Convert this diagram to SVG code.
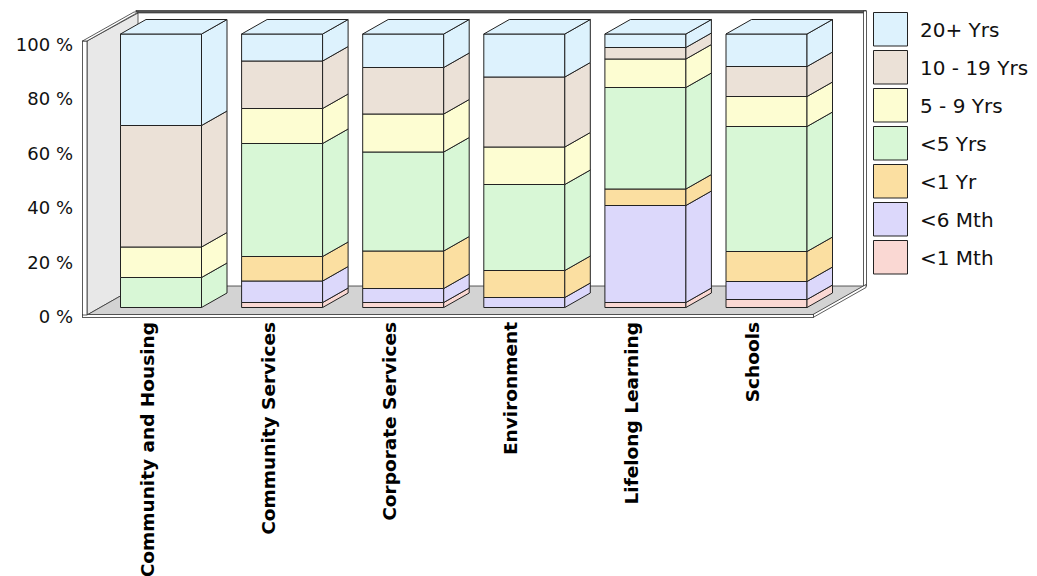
<svg xmlns="http://www.w3.org/2000/svg" width="1037" height="576" viewBox="0 0 1037 576">
<style>
.ln{stroke:#222;stroke-width:1;stroke-linejoin:round}
.wl{stroke:#333;stroke-width:0.8}
.c1{fill:#DDF2FD}.c2{fill:#EBE1D7}.c3{fill:#FDFDD2}.c4{fill:#D8F7D6}.c5{fill:#FBDFA1}.c6{fill:#DCD8FB}.c7{fill:#FAD8D3}
.ax{font-family:"DejaVu Sans",Verdana,sans-serif;font-size:18px;fill:#111;text-anchor:end}
.lg{font-family:"DejaVu Sans",Verdana,sans-serif;font-size:20px;fill:#111}
.cat{font-family:"DejaVu Sans",Verdana,sans-serif;font-size:18.5px;font-weight:bold;fill:#000;text-anchor:end}
</style>
<rect width="1037" height="576" fill="#fff"/>
<g id="frame">
<polygon class="wl" points="87,41 138,13 138,286 87,315" fill="#E8E8E8"/>
<rect x="136" y="10.5" width="730" height="2.5" fill="#555" stroke="#222" stroke-width="0.6"/>
<rect class="wl" x="863.5" y="11" width="3" height="275" fill="#fff"/>
<polygon class="wl" points="87,315 138,286 864,286 813,315" fill="#D3D3D3"/>
<polygon class="wl" points="813,314.5 866,284.5 866,287.5 813,317.5" fill="#fff"/>
<rect class="wl" x="82.5" y="314.5" width="731" height="3" fill="#fff"/>
<rect class="wl" x="82.5" y="41" width="4.5" height="274" fill="#fff"/>
<polygon class="wl" points="82.5,41 87,41 138.5,12 134,12" fill="#fff"/>
</g>
<g id="axis">
<text class="ax" x="73" y="50.5">100 %</text>
<text class="ax" x="73" y="105">80 %</text>
<text class="ax" x="73" y="159.5">60 %</text>
<text class="ax" x="73" y="214">40 %</text>
<text class="ax" x="73" y="268.5">20 %</text>
<text class="ax" x="73" y="323">0 %</text>
</g>
<g id="bar-community-housing" class="ln">
<rect class="c4" x="120.5" y="277.5" width="81" height="30"/>
<polygon class="c4" points="201.5,307.5 227,293 227,263 201.5,277.5"/>
<rect class="c3" x="120.5" y="247" width="81" height="30.5"/>
<polygon class="c3" points="201.5,277.5 227,263 227,232.5 201.5,247"/>
<rect class="c2" x="120.5" y="125.5" width="81" height="121.5"/>
<polygon class="c2" points="201.5,247 227,232.5 227,111 201.5,125.5"/>
<rect class="c1" x="120.5" y="34" width="81" height="91.5"/>
<polygon class="c1" points="201.5,125.5 227,111 227,19.5 201.5,34"/>
<polygon class="c1" points="120.5,34 146,19.5 227,19.5 201.5,34"/>
</g>
<g id="bar-community-services" class="ln">
<rect class="c7" x="241.6" y="302.5" width="81" height="5"/>
<polygon class="c7" points="322.6,307.5 348.1,293 348.1,288 322.6,302.5"/>
<rect class="c6" x="241.6" y="281" width="81" height="21.5"/>
<polygon class="c6" points="322.6,302.5 348.1,288 348.1,266.5 322.6,281"/>
<rect class="c5" x="241.6" y="256.5" width="81" height="24.5"/>
<polygon class="c5" points="322.6,281 348.1,266.5 348.1,242 322.6,256.5"/>
<rect class="c4" x="241.6" y="143.5" width="81" height="113"/>
<polygon class="c4" points="322.6,256.5 348.1,242 348.1,129 322.6,143.5"/>
<rect class="c3" x="241.6" y="108.5" width="81" height="35"/>
<polygon class="c3" points="322.6,143.5 348.1,129 348.1,94 322.6,108.5"/>
<rect class="c2" x="241.6" y="61" width="81" height="47.5"/>
<polygon class="c2" points="322.6,108.5 348.1,94 348.1,46.5 322.6,61"/>
<rect class="c1" x="241.6" y="34" width="81" height="27"/>
<polygon class="c1" points="322.6,61 348.1,46.5 348.1,19.5 322.6,34"/>
<polygon class="c1" points="241.6,34 267.1,19.5 348.1,19.5 322.6,34"/>
</g>
<g id="bar-corporate-services" class="ln">
<rect class="c7" x="362.7" y="302.5" width="81" height="5"/>
<polygon class="c7" points="443.7,307.5 469.2,293 469.2,288 443.7,302.5"/>
<rect class="c6" x="362.7" y="288.5" width="81" height="14"/>
<polygon class="c6" points="443.7,302.5 469.2,288 469.2,274 443.7,288.5"/>
<rect class="c5" x="362.7" y="251" width="81" height="37.5"/>
<polygon class="c5" points="443.7,288.5 469.2,274 469.2,236.5 443.7,251"/>
<rect class="c4" x="362.7" y="152" width="81" height="99"/>
<polygon class="c4" points="443.7,251 469.2,236.5 469.2,137.5 443.7,152"/>
<rect class="c3" x="362.7" y="114" width="81" height="38"/>
<polygon class="c3" points="443.7,152 469.2,137.5 469.2,99.5 443.7,114"/>
<rect class="c2" x="362.7" y="67.5" width="81" height="46.5"/>
<polygon class="c2" points="443.7,114 469.2,99.5 469.2,53 443.7,67.5"/>
<rect class="c1" x="362.7" y="34" width="81" height="33.5"/>
<polygon class="c1" points="443.7,67.5 469.2,53 469.2,19.5 443.7,34"/>
<polygon class="c1" points="362.7,34 388.2,19.5 469.2,19.5 443.7,34"/>
</g>
<g id="bar-environment" class="ln">
<rect class="c6" x="483.8" y="297.5" width="81" height="10"/>
<polygon class="c6" points="564.8,307.5 590.3,293 590.3,283 564.8,297.5"/>
<rect class="c5" x="483.8" y="270.5" width="81" height="27"/>
<polygon class="c5" points="564.8,297.5 590.3,283 590.3,256 564.8,270.5"/>
<rect class="c4" x="483.8" y="184.5" width="81" height="86"/>
<polygon class="c4" points="564.8,270.5 590.3,256 590.3,170 564.8,184.5"/>
<rect class="c3" x="483.8" y="147" width="81" height="37.5"/>
<polygon class="c3" points="564.8,184.5 590.3,170 590.3,132.5 564.8,147"/>
<rect class="c2" x="483.8" y="77" width="81" height="70"/>
<polygon class="c2" points="564.8,147 590.3,132.5 590.3,62.5 564.8,77"/>
<rect class="c1" x="483.8" y="34" width="81" height="43"/>
<polygon class="c1" points="564.8,77 590.3,62.5 590.3,19.5 564.8,34"/>
<polygon class="c1" points="483.8,34 509.3,19.5 590.3,19.5 564.8,34"/>
</g>
<g id="bar-lifelong-learning" class="ln">
<rect class="c7" x="604.9" y="302.5" width="81" height="5"/>
<polygon class="c7" points="685.9,307.5 711.4,293 711.4,288 685.9,302.5"/>
<rect class="c6" x="604.9" y="205.5" width="81" height="97"/>
<polygon class="c6" points="685.9,302.5 711.4,288 711.4,191 685.9,205.5"/>
<rect class="c5" x="604.9" y="189" width="81" height="16.5"/>
<polygon class="c5" points="685.9,205.5 711.4,191 711.4,174.5 685.9,189"/>
<rect class="c4" x="604.9" y="87.5" width="81" height="101.5"/>
<polygon class="c4" points="685.9,189 711.4,174.5 711.4,73 685.9,87.5"/>
<rect class="c3" x="604.9" y="59" width="81" height="28.5"/>
<polygon class="c3" points="685.9,87.5 711.4,73 711.4,44.5 685.9,59"/>
<rect class="c2" x="604.9" y="47.5" width="81" height="11.5"/>
<polygon class="c2" points="685.9,59 711.4,44.5 711.4,33 685.9,47.5"/>
<rect class="c1" x="604.9" y="34" width="81" height="13.5"/>
<polygon class="c1" points="685.9,47.5 711.4,33 711.4,19.5 685.9,34"/>
<polygon class="c1" points="604.9,34 630.4,19.5 711.4,19.5 685.9,34"/>
</g>
<g id="bar-schools" class="ln">
<rect class="c7" x="726" y="299.5" width="81" height="8"/>
<polygon class="c7" points="807,307.5 832.5,293 832.5,285 807,299.5"/>
<rect class="c6" x="726" y="281.5" width="81" height="18"/>
<polygon class="c6" points="807,299.5 832.5,285 832.5,267 807,281.5"/>
<rect class="c5" x="726" y="251.5" width="81" height="30"/>
<polygon class="c5" points="807,281.5 832.5,267 832.5,237 807,251.5"/>
<rect class="c4" x="726" y="126.5" width="81" height="125"/>
<polygon class="c4" points="807,251.5 832.5,237 832.5,112 807,126.5"/>
<rect class="c3" x="726" y="96.5" width="81" height="30"/>
<polygon class="c3" points="807,126.5 832.5,112 832.5,82 807,96.5"/>
<rect class="c2" x="726" y="66.5" width="81" height="30"/>
<polygon class="c2" points="807,96.5 832.5,82 832.5,52 807,66.5"/>
<rect class="c1" x="726" y="34" width="81" height="32.5"/>
<polygon class="c1" points="807,66.5 832.5,52 832.5,19.5 807,34"/>
<polygon class="c1" points="726,34 751.5,19.5 832.5,19.5 807,34"/>
</g>
<g id="categories">
<text class="cat" transform="translate(153.5,322) rotate(-90)">Community and Housing</text>
<text class="cat" transform="translate(274.6,322) rotate(-90)">Community Services</text>
<text class="cat" transform="translate(395.7,322) rotate(-90)">Corporate Services</text>
<text class="cat" transform="translate(516.8,322) rotate(-90)">Environment</text>
<text class="cat" transform="translate(637.9,322) rotate(-90)">Lifelong Learning</text>
<text class="cat" transform="translate(759,322) rotate(-90)">Schools</text>
</g>
<g id="legend">
<g class="ln"><rect class="c1" x="873.5" y="12.5" width="34" height="33.5"/>
<rect class="c2" x="873.5" y="50.5" width="34" height="33.5"/>
<rect class="c3" x="873.5" y="88.5" width="34" height="33.5"/>
<rect class="c4" x="873.5" y="126.5" width="34" height="33.5"/>
<rect class="c5" x="873.5" y="164.5" width="34" height="33.5"/>
<rect class="c6" x="873.5" y="202.5" width="34" height="33.5"/>
<rect class="c7" x="873.5" y="240.5" width="34" height="33.5"/></g>
<text class="lg" x="920" y="36.5">20+ Yrs</text>
<text class="lg" x="920" y="74.5">10 - 19 Yrs</text>
<text class="lg" x="920" y="112.5">5 - 9 Yrs</text>
<text class="lg" x="920" y="150.5">&lt;5 Yrs</text>
<text class="lg" x="920" y="188.5">&lt;1 Yr</text>
<text class="lg" x="920" y="226.5">&lt;6 Mth</text>
<text class="lg" x="920" y="264.5">&lt;1 Mth</text>
</g>
</svg>
